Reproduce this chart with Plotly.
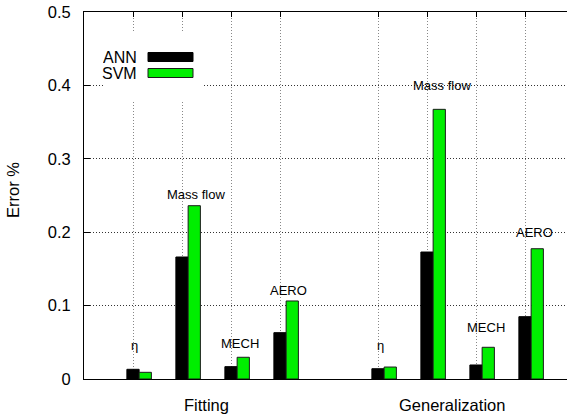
import plotly.graph_objects as go

# Error (%) per output quantity, for the fitting and generalization sets
groups = ["Fitting", "Generalization"]
metrics = ["η", "Mass flow", "MECH", "AERO"]
series_names = ["ANN", "SVM"]
ann_fit = [0.0132, 0.1662, 0.0168, 0.0631]
svm_fit = [0.0091, 0.2361, 0.0296, 0.1063]
ann_gen = [0.0140, 0.1730, 0.0191, 0.0849]
svm_gen = [0.0163, 0.3674, 0.0432, 0.1775]
y_ticks = [0, 0.1, 0.2, 0.3, 0.4, 0.5]

# text label placement above each cluster: (x shift, y value)
label_place = [
    [(0.04, 0.046), (0.29, 0.251), (0.19, 0.049), (0.17, 0.120)],
    [(0.06, 0.046), (0.31, 0.400), (0.20, 0.0695), (0.20, 0.200)],
]

W, H = 567, 420
ML, MR, MT, MB = 84, 0, 12, 41
unit = 49.0  # pixels per x unit
x_max = (W - ML - MR) / unit

FONT = "Liberation Sans, Arial, Helvetica, sans-serif"
GREEN = "#00ee00"

gap = len(metrics) + 1
positions, ann_vals, svm_vals = [], [], []
for g, (a_list, s_list) in enumerate([(ann_fit, svm_fit), (ann_gen, svm_gen)]):
    for m in range(len(metrics)):
        positions.append(g * gap + m + 1)
        ann_vals.append(a_list[m])
        svm_vals.append(s_list[m])

fig = go.Figure()
fig.add_trace(go.Bar(
    x=positions, y=ann_vals, name=series_names[0], width=0.25, offset=-0.125,
    marker=dict(color="black", line=dict(color="black", width=1)),
    showlegend=False,
))
fig.add_trace(go.Bar(
    x=positions, y=svm_vals, name=series_names[1], width=0.25, offset=0.125,
    marker=dict(color=GREEN, line=dict(color="#1a1a1a", width=1)),
    showlegend=False,
))

annotations = []
# metric labels
for g in range(len(groups)):
    for m, name in enumerate(metrics):
        dx, yv = label_place[g][m]
        annotations.append(dict(
            x=g * gap + m + 1 + dx, y=yv, xref="x", yref="y", text=name,
            showarrow=False, xanchor="center", yanchor="middle",
            font=dict(family=FONT, size=13, color="black"),
        ))

# group labels under the axis
for g, name in enumerate(groups):
    annotations.append(dict(
        x=g * gap + 2.5, y=-26 / (H - MT - MB), xref="x", yref="paper", text=name,
        showarrow=False, xanchor="center", yanchor="middle",
        font=dict(family=FONT, size=16.5, color="black"),
    ))

plot_w = W - ML - MR
plot_h = H - MT - MB


def px(xp):
    return (xp - ML) / plot_w


def py(yp):
    return (H - MB - yp) / plot_h


# y axis title
annotations.append(dict(
    x=px(13), y=py(190), xref="paper", yref="paper", text="Error %",
    showarrow=False, textangle=-90, xanchor="center", yanchor="middle",
    font=dict(family=FONT, size=16.5, color="black"),
))

# key: text to the left of a wide colour sample
key_rows = [(57, "black", "black"), (73, GREEN, "#1a1a1a")]
shapes = [dict(type="rect", xref="paper", yref="paper", layer="above",
               x0=px(103), x1=px(203), y0=py(101), y1=py(33),
               fillcolor="white", line=dict(width=0))]
for (yc, fill, edge), name in zip(key_rows, series_names):
    shapes.append(dict(type="rect", xref="paper", yref="paper", layer="above",
                       x0=px(148), x1=px(193), y0=py(yc + 4.5), y1=py(yc - 4.5),
                       fillcolor=fill, line=dict(color=edge, width=1)))
    annotations.append(dict(
        x=px(138), y=py(yc), xref="paper", yref="paper", text=name,
        showarrow=False, xanchor="right", yanchor="middle",
        height=15, borderpad=0,
        font=dict(family=FONT, size=16, color="black"),
    ))

fig.update_layout(
    width=W, height=H,
    margin=dict(l=ML, r=MR, t=MT, b=MB, pad=0),
    paper_bgcolor="white", plot_bgcolor="white",
    barmode="overlay",
    font=dict(family=FONT, size=16.5, color="black"),
    annotations=annotations,
    shapes=shapes,
    xaxis=dict(
        range=[0, x_max], tickvals=positions, ticktext=[""] * len(positions),
        showgrid=True, gridcolor="#888", griddash="1px,2px", gridwidth=1,
        ticks="inside", ticklen=5, tickcolor="black",
        showline=True, linecolor="black", linewidth=1, mirror="ticks",
        zeroline=False, fixedrange=True,
    ),
    yaxis=dict(
        range=[0, 0.5], tickvals=y_ticks, ticktext=[f"{v:g}" for v in y_ticks],
        showgrid=True, gridcolor="#333", griddash="1px,2px", gridwidth=1,
        ticks="inside", ticklen=6, tickcolor="black", ticklabelstandoff=9,
        showline=True, linecolor="black", linewidth=1, mirror=False,
        zeroline=False, fixedrange=True,
        tickfont=dict(family=FONT, size=16.5, color="black"),
    ),
)

fig.write_html("out.html")
